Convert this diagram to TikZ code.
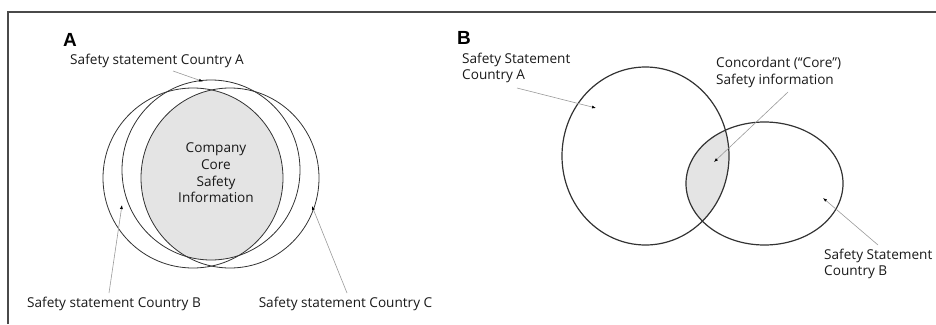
\documentclass[tikz,border=0pt]{standalone}
\usepackage{fontspec}
\setmainfont{Open Sans}
\newfontfamily\panelfont{Liberation Sans}
\usetikzlibrary{arrows.meta}
\definecolor{linegray}{HTML}{333333}
\definecolor{leadgray}{HTML}{9A9A9A}
\definecolor{corefill}{HTML}{E4E4E4}
\definecolor{framegray}{HTML}{4A4A4A}
\tikzset{
  vennA/.style={draw=linegray, line width=0.8pt},
  vennB/.style={draw=linegray, line width=1.2pt},
  leader/.style={draw=leadgray, line width=0.6pt, -{Latex[length=4pt,width=3pt,color=black]}},
  lbl/.style={font=\fontsize{13.6}{16.6}\selectfont, inner sep=0pt, text=black!90},
  panel/.style={font=\panelfont\bfseries\fontsize{19}{19}\selectfont, inner sep=0pt},
}
\begin{document}
\begin{tikzpicture}[x=1pt,y=-1pt]
\useasboundingbox (0,0) rectangle (936,324);
% frame
\draw[framegray, line width=1.6pt] (8,324) -- (8,12) -- (936,12);
% ---------- Panel A ----------
\node[panel] (pA) at (70,40) {A};
\begin{scope}
  \clip (193,178) ellipse [x radius=90, y radius=90];
  \clip (230,178) ellipse [x radius=89, y radius=90];
  \fill[corefill] (211,170) ellipse [x radius=89, y radius=90];
\end{scope}
\draw[vennA] (193,178) ellipse [x radius=90, y radius=90];
\draw[vennA] (230,178) ellipse [x radius=89, y radius=90];
\draw[vennA] (211,170) ellipse [x radius=89, y radius=90];
\node[lbl, align=center] (core) at (216,173) {Company\\Core\\Safety\\Information};
\node[lbl] (lA) at (157,61) {Safety statement Country A};
\node[lbl] (lB) at (114,304) {Safety statement Country B};
\node[lbl] (lC) at (345.5,304) {Safety statement Country C};
\coordinate (sA) at (173,71);
\coordinate (tA) at (203,81.5);
\coordinate (sB) at (109,293);
\coordinate (tB) at (122,205);
\coordinate (sC) at (347,293);
\coordinate (tC) at (312,206);
\draw[leader] (sA) -- (tA);
\draw[leader] (sB) -- (tB);
\draw[leader] (sC) -- (tC);
% ---------- Panel B ----------
\node[panel] (pB) at (464,38) {B};
\begin{scope}
  \clip (645.5,156) ellipse [x radius=83.5, y radius=89];
  \fill[corefill] (764.5,183.5) ellipse [x radius=78.5, y radius=61.5];
\end{scope}
\draw[vennB] (645.5,156) ellipse [x radius=83.5, y radius=89];
\draw[vennB] (764.5,183.5) ellipse [x radius=78.5, y radius=61.5];
\node[lbl, align=left, anchor=west] (mA) at (462,68) {Safety Statement\\Country A};
\node[lbl, align=left, anchor=west] (mC) at (716,72.5) {Concordant (“Core”)\\Safety information};
\node[lbl, align=left, anchor=west] (mB) at (824,264) {Safety Statement\\Country B};
\coordinate (uA) at (517,88);
\coordinate (vA) at (596,108);
\coordinate (uC) at (788,92);
\coordinate (vC) at (714,162);
\coordinate (uB) at (878,245);
\coordinate (vB) at (823,198);
\draw[leader] (uA) -- (vA);
\draw[leader] (uC) -- (vC);
\draw[leader] (uB) -- (vB);
\end{tikzpicture}
\end{document}
